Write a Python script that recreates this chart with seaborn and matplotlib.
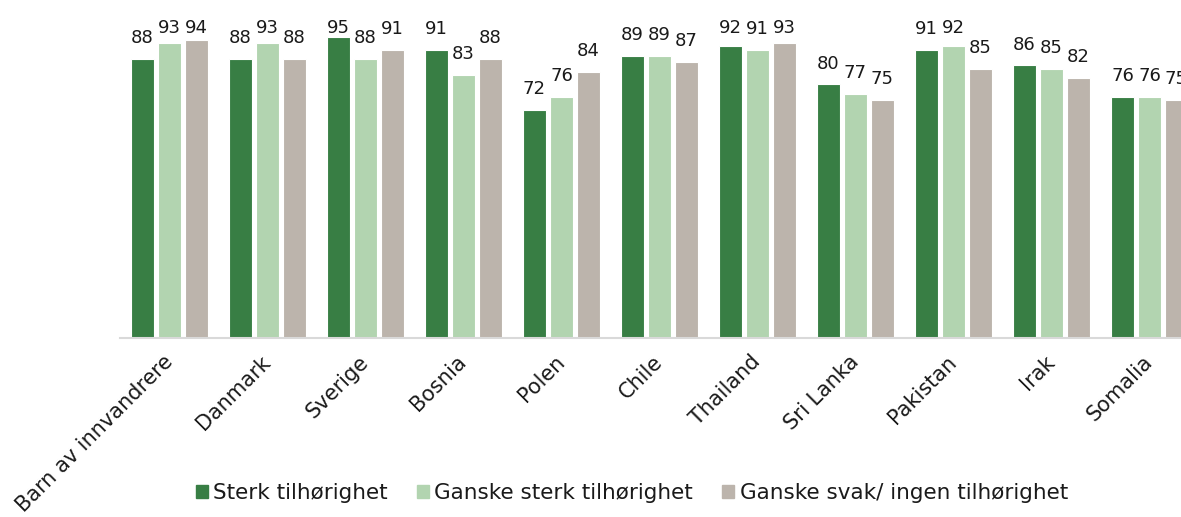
import matplotlib
matplotlib.use("Agg")
import matplotlib.pyplot as plt
import matplotlib.patches as mpatches
import pandas as pd
import seaborn as sns

# Data
categories = ["Barn av innvandrere", "Danmark", "Sverige", "Bosnia", "Polen",
              "Chile", "Thailand", "Sri Lanka", "Pakistan", "Irak", "Somalia"]
series_names = ["Sterk tilhørighet", "Ganske sterk tilhørighet",
                "Ganske svak/ ingen tilhørighet"]
sterk = [88, 88, 95, 91, 72, 89, 92, 80, 91, 86, 76]
ganske_sterk = [93, 93, 88, 83, 76, 89, 91, 77, 92, 85, 76]
svak_ingen = [94, 88, 91, 88, 84, 87, 93, 75, 85, 82, 75]

colors = ["#387E44", "#B2D4B0", "#BCB4AC"]

df = pd.DataFrame({
    "land": categories * 3,
    "gruppe": [series_names[0]] * len(categories)
              + [series_names[1]] * len(categories)
              + [series_names[2]] * len(categories),
    "verdi": sterk + ganske_sterk + svak_ingen,
})

sns.set_theme(style="white")
plt.rcParams["font.family"] = ["DejaVu Sans"]

fig = plt.figure(figsize=(11.81, 5.17), dpi=100)
ax = fig.add_axes([0.1020, 0.3462, 0.9128, 0.6132])

sns.barplot(data=df, x="land", y="verdi", hue="gruppe", order=categories,
            hue_order=series_names, palette=colors, saturation=1,
            width=0.827, gap=0.17, edgecolor="white", linewidth=0.8,
            errorbar=None, ax=ax, legend=False)

ax.set_xlim(-0.5, 10.5)
ax.set_ylim(0, 100)
ax.set_xlabel("")
ax.set_ylabel("")
ax.set_yticks([])
for side in ["left", "right", "top"]:
    ax.spines[side].set_visible(False)
ax.spines["bottom"].set_color("#D9D9D9")
ax.spines["bottom"].set_linewidth(1.5)
ax.spines["bottom"].set_clip_on(False)
ax.tick_params(axis="x", length=0, pad=15)

ax.set_xticks(range(len(categories)))
ax.set_xticklabels(categories, rotation=45, ha="right", va="center",
                   rotation_mode="anchor", fontsize=15, color="#1a1a1a")

# Value labels above each bar; labels near the top are kept inside the chart
label_cap = 96.2
for container, vals in zip(ax.containers, [sterk, ganske_sterk, svak_ingen]):
    for bar, v in zip(container.patches, vals):
        x = bar.get_x() + bar.get_width() / 2
        ax.text(x, min(v + 5.0, label_cap), f"{v}", ha="center",
                va="baseline", fontsize=13, color="#1a1a1a", clip_on=False)

handles = [mpatches.Patch(color=c, label=n) for c, n in zip(colors, series_names)]
fig.legend(handles=handles, loc="center", bbox_to_anchor=(0.535, 0.046),
           ncol=3, frameon=False, fontsize=15.5, handlelength=0.56,
           handleheight=0.56, handletextpad=0.25, columnspacing=1.35,
           labelcolor="#1a1a1a")

fig.savefig("out.png", dpi=100)
